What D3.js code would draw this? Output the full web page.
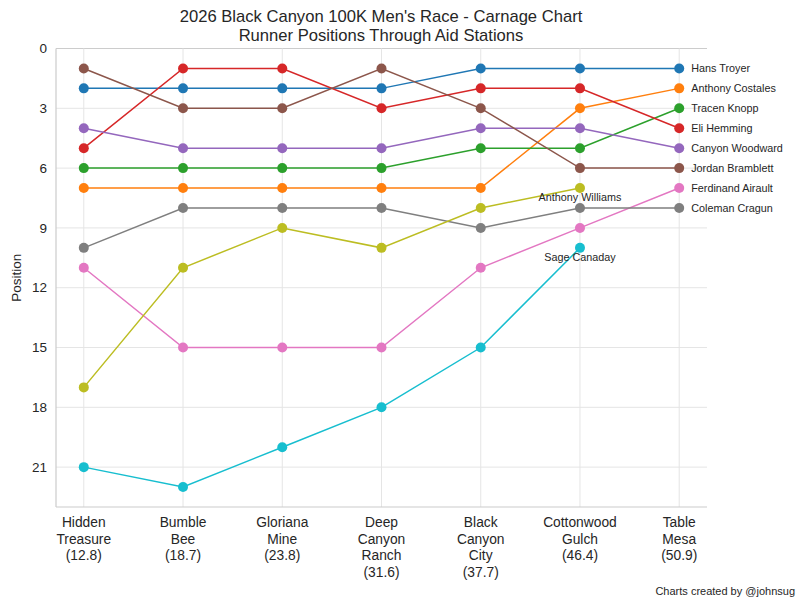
<!DOCTYPE html>
<html>
<head>
<meta charset="utf-8">
<script src="https://cdn.jsdelivr.net/npm/d3@7"></script>
<style>
  body { margin: 0; background: #fff; }
  text { font-family: "Liberation Sans", Arial, sans-serif; fill: #262626; }
</style>
</head>
<body>
<div id="chart"></div>
<script>
// aid stations (x axis)
var stations = ["Hidden\nTreasure\n(12.8)", "Bumble\nBee\n(18.7)", "Gloriana\nMine\n(23.8)",
  "Deep\nCanyon\nRanch\n(31.6)", "Black\nCanyon\nCity\n(37.7)", "Cottonwood\nGulch\n(46.4)", "Table\nMesa\n(50.9)"];

// runners, in finishing order, then DNFs
var runners = ["Hans Troyer", "Anthony Costales", "Tracen Knopp", "Eli Hemming", "Canyon Woodward",
  "Jordan Bramblett", "Ferdinand Airault", "Coleman Cragun", "Anthony Williams", "Sage Canaday"];

// position at each station (null = did not reach)
var hansTroyer       = [2, 2, 2, 2, 1, 1, 1];
var anthonyCostales  = [7, 7, 7, 7, 7, 3, 2];
var tracenKnopp      = [6, 6, 6, 6, 5, 5, 3];
var eliHemming       = [5, 1, 1, 3, 2, 2, 4];
var canyonWoodward   = [4, 5, 5, 5, 4, 4, 5];
var jordanBramblett  = [1, 3, 3, 1, 3, 6, 6];
var ferdinandAirault = [11, 15, 15, 15, 11, 9, 7];
var colemanCragun    = [10, 8, 8, 8, 9, 8, 8];
var anthonyWilliams  = [17, 11, 9, 10, 8, 7, null];
var sageCanaday      = [21, 22, 20, 18, 15, 10, null];

var positions = [hansTroyer, anthonyCostales, tracenKnopp, eliHemming, canyonWoodward,
  jordanBramblett, ferdinandAirault, colemanCragun, anthonyWilliams, sageCanaday];

var yTicks = [0, 3, 6, 9, 12, 15, 18, 21];

var colors = ["#1f77b4", "#ff7f0e", "#2ca02c", "#d62728", "#9467bd",
  "#8c564b", "#e377c2", "#7f7f7f", "#bcbd22", "#17becf"];

var width = 804, height = 607,
    plotLeft = 56, plotRight = 707, plotTop = 48.5, plotBottom = 507;

var svg = d3.select("#chart").append("svg")
  .attr("width", width)
  .attr("height", height);

var x = d3.scaleLinear()
  .domain([-0.28, stations.length - 1 + 0.28])
  .range([plotLeft, plotRight]);

var y = d3.scaleLinear()
  .domain([0, 23])
  .range([plotTop, plotBottom]);

// grid
svg.append("g").selectAll("line").data(yTicks)
  .enter().append("line")
    .attr("x1", plotLeft).attr("x2", plotRight)
    .attr("y1", function(d){ return y(d); })
    .attr("y2", function(d){ return y(d); })
    .attr("stroke", function(d){ return d == 0 ? "#cccccc" : "#e5e5e5"; })
    .attr("stroke-width", 1);

svg.append("g").selectAll("line").data(stations)
  .enter().append("line")
    .attr("x1", function(d, i){ return x(i); })
    .attr("x2", function(d, i){ return x(i); })
    .attr("y1", plotTop).attr("y2", plotBottom)
    .attr("stroke", "#e5e5e5");

// spines
svg.append("line").attr("x1", plotLeft).attr("x2", plotLeft).attr("y1", plotTop).attr("y2", plotBottom)
  .attr("stroke", "#cccccc").attr("stroke-width", 1.2);
svg.append("line").attr("x1", plotLeft).attr("x2", plotRight).attr("y1", plotBottom).attr("y2", plotBottom)
  .attr("stroke", "#cccccc").attr("stroke-width", 1.2);

// y tick labels
svg.append("g").selectAll("text").data(yTicks)
  .enter().append("text")
    .attr("x", plotLeft - 9)
    .attr("y", function(d){ return y(d); })
    .attr("dy", "0.35em")
    .attr("text-anchor", "end")
    .style("font-size", "13.5px")
    .text(function(d){ return d; });

// x tick labels (multi-line)
var xl = svg.append("g").selectAll("text").data(stations)
  .enter().append("text")
    .attr("x", function(d, i){ return x(i); })
    .attr("y", plotBottom + 20)
    .attr("text-anchor", "middle")
    .style("font-size", "13.8px");
xl.selectAll("tspan").data(function(d, i){ return d.split("\n").map(function(s){ return [s, i]; }); })
  .enter().append("tspan")
    .attr("x", function(d){ return x(d[1]); })
    .attr("dy", function(d, j){ return j == 0 ? 0 : "1.2em"; })
    .text(function(d){ return d[0]; });

// lines and points
var line = d3.line()
  .defined(function(d){ return d != null; })
  .x(function(d, i){ return x(i); })
  .y(function(d){ return y(d); });

positions.forEach(function(vals, k){
  svg.append("path")
    .attr("d", line(vals))
    .attr("fill", "none")
    .attr("stroke", colors[k])
    .attr("stroke-width", 1.5);

  svg.append("g").selectAll("circle")
    .data(vals.map(function(v, i){ return [i, v]; }).filter(function(d){ return d[1] != null; }))
    .enter().append("circle")
      .attr("cx", function(d){ return x(d[0]); })
      .attr("cy", function(d){ return y(d[1]); })
      .attr("r", 5)
      .attr("fill", colors[k]);

  // label at the last point
  var last = 0;
  vals.forEach(function(v, i){ if (v != null) last = i; });
  if (last == stations.length - 1) {
    svg.append("text")
      .attr("x", x(last) + 12)
      .attr("y", y(vals[last]))
      .attr("dy", "0.35em")
      .style("font-size", "10.8px")
      .text(runners[k]);
  } else {
    svg.append("text")
      .attr("x", x(last))
      .attr("y", y(vals[last]) + 9)
      .attr("dy", "0.35em")
      .attr("text-anchor", "middle")
      .style("font-size", "10.8px")
      .text(runners[k]);
  }
});

// title
svg.append("text").attr("x", 381).attr("y", 22).attr("text-anchor", "middle")
  .style("font-size", "16.6px").text("2026 Black Canyon 100K Men's Race - Carnage Chart");
svg.append("text").attr("x", 381).attr("y", 40.5).attr("text-anchor", "middle")
  .style("font-size", "16.6px").text("Runner Positions Through Aid Stations");

// y label
svg.append("text")
  .attr("transform", "translate(21," + ((plotTop + plotBottom) / 2) + ") rotate(-90)")
  .attr("text-anchor", "middle")
  .style("font-size", "13.5px")
  .text("Position");

// credit
svg.append("text").attr("x", 795).attr("y", 595).attr("text-anchor", "end")
  .style("font-size", "11px").text("Charts created by @johnsug");
</script>
</body>
</html>
